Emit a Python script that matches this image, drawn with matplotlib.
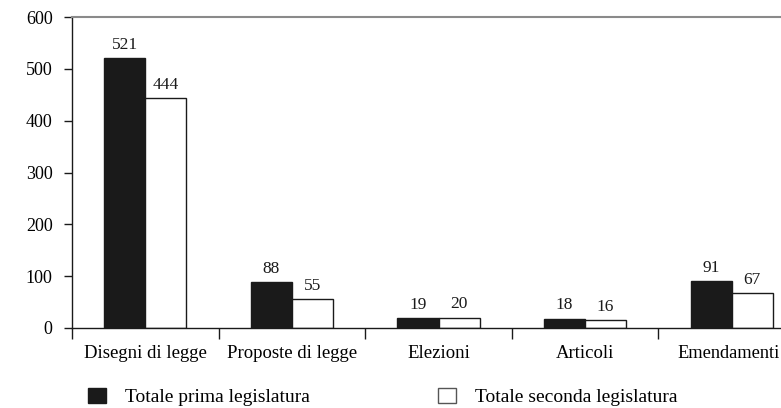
import matplotlib
matplotlib.use("Agg")
import matplotlib.pyplot as plt
import matplotlib.transforms as mtransforms
import numpy as np
from matplotlib.patches import Patch

categories = ["Disegni di legge", "Proposte di legge", "Elezioni", "Articoli", "Emendamenti"]
prima = [521, 88, 19, 18, 91]
seconda = [444, 55, 20, 16, 67]
series_names = ["Totale prima legislatura", "Totale seconda legislatura"]
yticks = [0, 100, 200, 300, 400, 500, 600]

plt.rcParams['font.family'] = ['Liberation Serif', 'DejaVu Serif']

fig = plt.figure(figsize=(7.81, 4.08), dpi=100)
ax = fig.add_axes([72 / 781, 80 / 408, 733 / 781, 311 / 408])

x = np.arange(len(categories)) + 0.5
w = 0.28
b1 = ax.bar(x - w / 2, prima, width=w, color='#1a1a1a', edgecolor='#1a1a1a', linewidth=1)
b2 = ax.bar(x + w / 2, seconda, width=w, color='white', edgecolor='#1a1a1a', linewidth=1)

for bars, vals in ((b1, prima), (b2, seconda)):
    for r, v in zip(bars, vals):
        ax.text(r.get_x() + r.get_width() / 2, v + 10, str(v), ha='center', va='bottom',
                fontsize=12.5, color='#1a1a1a')

ax.set_xlim(0, len(categories))
ax.set_ylim(0, 600)
ax.set_yticks(yticks)
ax.set_yticklabels([str(t) for t in yticks], fontsize=13)
ax.set_xticks(np.arange(len(categories) + 1))
ax.set_xticklabels([])
ax.set_xticks(x, minor=True)
ax.set_xticklabels(categories, minor=True, fontsize=13.5)
ax.tick_params(axis='x', which='major', direction='out', length=8, width=1, color='#1a1a1a')
ax.tick_params(axis='x', which='minor', length=0, pad=12)
ax.tick_params(axis='y', direction='out', length=6, width=1, color='#1a1a1a', pad=8)

last = ax.xaxis.get_minor_ticks()[-1].label1
last.set_fontsize(13.2)
last.set_transform(last.get_transform() + mtransforms.ScaledTranslation(-3 / 100, 0, fig.dpi_scale_trans))

for s in ('left', 'bottom'):
    ax.spines[s].set_color('#1a1a1a')
    ax.spines[s].set_linewidth(1)
ax.spines['top'].set_color('#8a8a8a')
ax.spines['top'].set_linewidth(1.5)
ax.spines['right'].set_visible(False)

handles = [Patch(facecolor='#1a1a1a', edgecolor='#1a1a1a'),
           Patch(facecolor='white', edgecolor='#555555')]
fig.legend(handles, series_names, loc='center left', bbox_to_anchor=(88 / 781, 11 / 408),
           ncol=2, frameon=False, fontsize=14, handlelength=0.9, handleheight=0.85,
           handletextpad=1.0, columnspacing=6.6, borderaxespad=0, borderpad=0)

fig.savefig("out.png", dpi=100)
